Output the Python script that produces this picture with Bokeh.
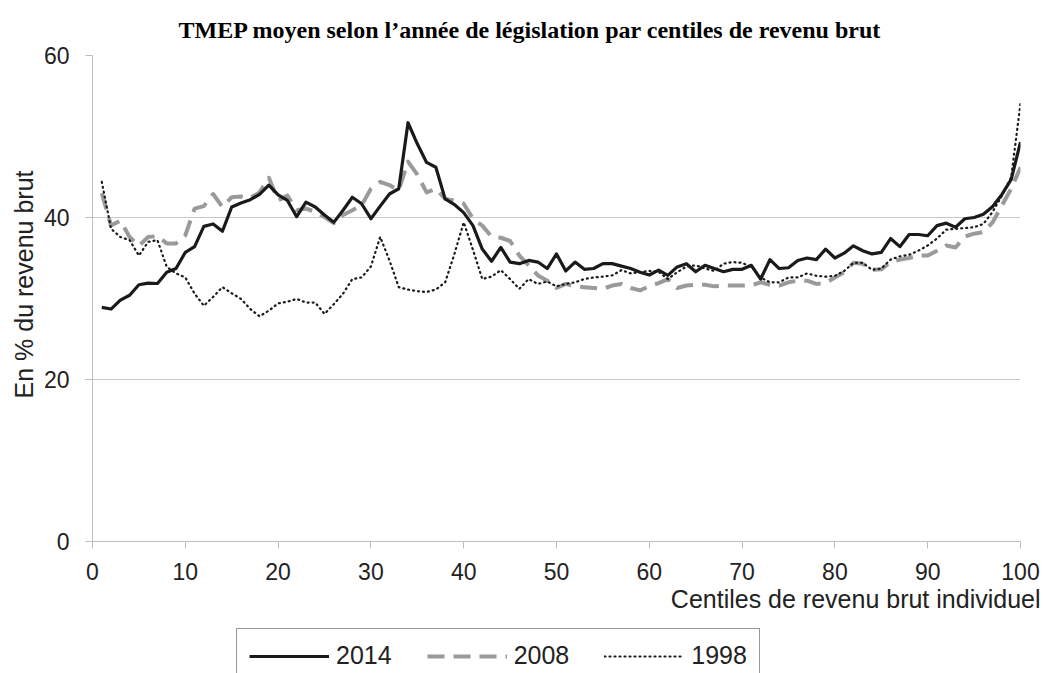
from bokeh.plotting import figure
from bokeh.models import Range1d, Legend, LegendItem, Title, FixedTicker
from bokeh.layouts import column
from bokeh.embed import file_html
from bokeh.resources import INLINE

centiles = list(range(1, 101))

y2014 = [28.9, 28.7, 29.8, 30.4, 31.7, 31.9, 31.85, 33.25, 33.7, 35.7,
         36.4, 38.9, 39.2, 38.3, 41.3, 41.8, 42.2, 42.85, 44.0, 42.8,
         42.1, 40.1, 41.9, 41.3, 40.3, 39.4, 40.9, 42.5, 41.7, 39.85,
         41.4, 42.9, 43.55, 51.7, 49.1, 46.8, 46.2, 42.3, 41.6, 40.6,
         39.0, 36.1, 34.6, 36.3, 34.5, 34.3, 34.7, 34.5, 33.7, 35.5,
         33.4, 34.5, 33.6, 33.7, 34.3, 34.3, 34.0, 33.7, 33.25, 32.9,
         33.5, 32.85, 33.9, 34.3, 33.3, 34.1, 33.7, 33.3, 33.6, 33.6,
         34.1, 32.4, 34.8, 33.7, 33.8, 34.7, 35.0, 34.8, 36.1, 35.0,
         35.6, 36.5, 35.9, 35.5, 35.7, 37.4, 36.4, 37.9, 37.9, 37.75,
         39.0, 39.3, 38.8, 39.85, 40.0, 40.4, 41.35, 42.85, 44.7, 49.3]

y2008 = [43.0, 39.0, 39.6, 37.6, 36.5, 37.6, 37.7, 36.8, 36.8, 37.8,
         41.1, 41.4, 42.9, 41.3, 42.5, 42.6, 42.4, 43.1, 44.9, 42.1,
         42.7, 40.9, 41.1, 40.7, 40.05, 39.3, 40.3, 40.9, 41.5, 43.55,
         44.4, 44.0, 43.35, 46.9, 45.3, 43.1, 43.55, 42.3, 42.1, 41.7,
         39.85, 39.0, 37.65, 37.5, 37.1, 35.3, 34.1, 32.85, 32.2, 31.3,
         31.8, 31.5, 31.4, 31.3, 31.2, 31.6, 31.8, 31.3, 31.0, 31.5,
         31.9, 32.4, 31.3, 31.6, 31.7, 31.7, 31.5, 31.6, 31.6, 31.6,
         31.6, 32.0, 31.7, 31.6, 32.0, 32.2, 32.2, 31.8, 31.9, 32.6,
         33.25, 34.4, 34.3, 33.55, 33.6, 34.5, 34.8, 35.0, 35.3, 35.3,
         35.9, 36.55, 36.3, 37.65, 38.0, 38.2, 39.4, 41.5, 43.55, 46.2]

y1998 = [44.4, 38.6, 37.6, 37.2, 35.3, 37.0, 37.2, 33.9, 33.1, 32.6,
         30.6, 29.1, 30.2, 31.4, 30.65, 29.95, 28.7, 27.8, 28.5, 29.4,
         29.6, 29.95, 29.5, 29.5, 28.1, 29.3, 30.6, 32.4, 32.6, 33.95,
         37.6, 34.7, 31.4, 31.1, 30.9, 30.8, 31.1, 32.0, 35.5, 39.4,
         36.0, 32.4, 32.7, 33.5, 32.4, 31.2, 32.4, 31.8, 32.1, 31.5,
         31.8, 32.0, 32.4, 32.6, 32.7, 32.85, 33.5, 33.1, 33.25, 33.4,
         33.3, 32.4, 33.25, 33.95, 34.1, 33.7, 33.4, 34.3, 34.5, 34.4,
         33.9, 32.6, 32.0, 32.0, 32.6, 32.6, 33.1, 32.8, 32.7, 32.8,
         33.4, 34.4, 34.4, 33.55, 33.7, 34.8, 35.2, 35.4, 35.9, 36.55,
         37.4, 38.5, 38.6, 38.7, 38.8, 39.2, 40.7, 42.7, 45.0, 54.1]

x_ticks = [0, 10, 20, 30, 40, 50, 60, 70, 80, 90, 100]
y_ticks = [0, 20, 40, 60]
series_names = ["2014", "2008", "1998"]

title_text = "TMEP moyen selon l\u2019ann\u00e9e de l\u00e9gislation par centiles de revenu brut"
x_label = "Centiles de revenu brut individuel"
y_label = "En % du revenu brut"

SANS = "Liberation Sans"
TXT = "#222222"

STY_2014 = dict(line_color="#1a1a1a", line_width=3.2, line_join="round")
STY_2008 = dict(line_color="#9a9a9a", line_width=4, line_dash="17 9", line_join="round")
STY_1998 = dict(line_color="#1a1a1a", line_width=2.2, line_dash="1 4",
                line_cap="round", line_join="round")

p = figure(width=1040, height=628, output_backend="svg", toolbar_location=None,
           x_range=Range1d(0, 100), y_range=Range1d(0, 60),
           min_border_left=92, min_border_right=20, min_border_top=55,
           min_border_bottom=87)

p.title.text = title_text
p.title.text_font = "Liberation Serif"
p.title.text_font_style = "bold"
p.title.text_font_size = "24px"
p.title.align = "left"
p.title.offset = 86
p.title.standoff = 26
p.title.text_color = "#000000"

p.outline_line_color = None
p.background_fill_color = "white"
p.border_fill_color = "white"

p.xgrid.grid_line_color = None
p.ygrid.grid_line_color = "#c8c8c8"
p.ygrid.grid_line_width = 1

for ax in (p.xaxis[0], p.yaxis[0]):
    ax.axis_line_color = "#bdbdbd"
    ax.major_tick_line_color = "#bdbdbd"
    ax.minor_tick_line_color = None
    ax.major_tick_in = 0
    ax.major_tick_out = 7
    ax.major_label_text_font = SANS
    ax.major_label_text_font_size = "23px"
    ax.major_label_text_color = TXT

p.xaxis.ticker = FixedTicker(ticks=x_ticks)
p.yaxis.ticker = FixedTicker(ticks=y_ticks)
p.xaxis.major_label_standoff = 14
p.yaxis.major_label_standoff = 16

p.line(centiles, y2008, **STY_2008)
p.line(centiles, y1998, **STY_1998)
p.line(centiles, y2014, **STY_2014)

yt = Title(text=y_label, align="right", offset=115, standoff=6,
           text_font=SANS, text_font_size="25px", text_font_style="normal",
           text_color=TXT)
p.add_layout(yt, "left")

xt = Title(text=x_label, align="right", offset=-20, standoff=0,
           text_font=SANS, text_font_size="25px", text_font_style="normal",
           text_color=TXT)
p.add_layout(xt, "below")

# legend strip below the chart (its lines fall outside its own visible range)
p2 = figure(width=1040, height=45, output_backend="svg", toolbar_location=None,
            x_range=Range1d(0, 100), y_range=Range1d(-20, -10),
            x_axis_location=None, y_axis_location=None, min_border=0)
p2.outline_line_color = None
p2.grid.visible = False
l2014 = p2.line(centiles, y2014, **STY_2014)
l2008 = p2.line(centiles, y2008, **STY_2008)
l1998 = p2.line(centiles, y1998, **STY_1998)

legend = Legend(items=[LegendItem(label=series_names[0], renderers=[l2014]),
                       LegendItem(label=series_names[1], renderers=[l2008]),
                       LegendItem(label=series_names[2], renderers=[l1998])],
                orientation="horizontal", location=(144, -10),
                glyph_width=80, glyph_height=22, label_height=22,
                label_standoff=7, spacing=35, padding=12, margin=0,
                label_text_font=SANS, label_text_font_size="25px",
                label_text_color=TXT, border_line_color="#333333",
                border_line_width=1.2, background_fill_alpha=1)
p2.add_layout(legend, "center")

layout = column(p, p2, spacing=0)
open("out.html", "w").write(file_html(layout, INLINE))
